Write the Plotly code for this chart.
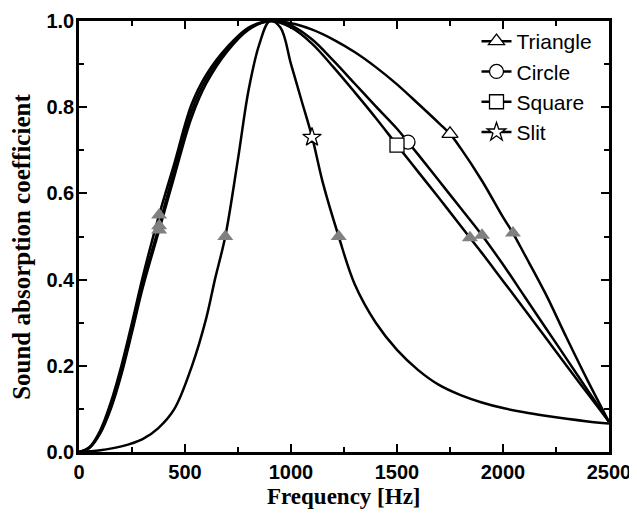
import plotly.graph_objects as go

# ---- data ----
tri_x = [0, 50, 100, 150, 200, 250, 300, 378, 450, 530, 600, 700, 800, 900,
         1000, 1100, 1200, 1300, 1400, 1500, 1600, 1700, 1750, 1800, 1900, 2000, 2047, 2100, 2200, 2300, 2400, 2500]
tri_y = [0, 0.012, 0.05, 0.115, 0.2, 0.3, 0.405, 0.55, 0.67, 0.805, 0.875, 0.94, 0.985, 1.0,
         0.995, 0.98, 0.957, 0.928, 0.893, 0.853, 0.808, 0.762, 0.738, 0.705, 0.63, 0.545, 0.508, 0.46, 0.368, 0.265, 0.165, 0.07]

cir_x = [0, 50, 100, 150, 200, 250, 300, 378, 450, 530, 600, 700, 800, 900,
         1000, 1100, 1200, 1300, 1400, 1500, 1552, 1600, 1700, 1800, 1901, 2000, 2100, 2200, 2300, 2400, 2500]
cir_y = [0, 0.01, 0.045, 0.105, 0.185, 0.285, 0.39, 0.525, 0.655, 0.79, 0.865, 0.935, 0.982, 1.0,
         0.99, 0.957, 0.908, 0.855, 0.802, 0.75, 0.719, 0.69, 0.628, 0.566, 0.503, 0.435, 0.362, 0.289, 0.216, 0.143, 0.07]

sq_x = [0, 50, 100, 150, 200, 250, 300, 378, 450, 530, 600, 700, 800, 900,
        1000, 1100, 1200, 1300, 1400, 1500, 1600, 1700, 1800, 1844, 1900, 2000, 2100, 2200, 2300, 2400, 2500]
sq_y = [0, 0.01, 0.043, 0.1, 0.18, 0.278, 0.38, 0.515, 0.64, 0.775, 0.855, 0.93, 0.98, 1.0,
        0.985, 0.947, 0.893, 0.835, 0.775, 0.712, 0.65, 0.588, 0.525, 0.497, 0.462, 0.397, 0.332, 0.266, 0.2, 0.135, 0.07]

slit_x = [0, 100, 200, 300, 373, 450, 533, 600, 641, 690, 750, 800, 850, 900,
          950, 1000, 1050, 1100, 1150, 1225, 1300, 1400, 1500, 1600, 1700, 1800, 1900, 2000, 2100, 2200, 2300, 2400, 2500]
slit_y = [0, 0.004, 0.013, 0.03, 0.055, 0.1, 0.2, 0.31, 0.40, 0.50, 0.68, 0.84, 0.945, 1.0,
          0.985, 0.9, 0.815, 0.73, 0.625, 0.50, 0.39, 0.30, 0.237, 0.19, 0.155, 0.132, 0.115, 0.102, 0.092, 0.084, 0.077, 0.071, 0.066]

# half-bandwidth markers (grey filled triangles)
half_x = [378, 378, 378, 690, 1225, 1844, 1901, 2047]
half_y = [0.55, 0.525, 0.515, 0.50, 0.50, 0.497, 0.503, 0.508]

# identification markers (open symbols)
names = ["Triangle", "Circle", "Square", "Slit"]
symbols = ["triangle-up", "circle", "square", "star"]
id_x = [1750, 1552, 1500, 1099]
id_y = [0.738, 0.719, 0.712, 0.73]

x_ticks = [0, 500, 1000, 1500, 2000, 2500]
y_ticks = [0.0, 0.2, 0.4, 0.6, 0.8, 1.0]
x_title = "Frequency [Hz]"
y_title = "Sound absorption coefficient"

fig = go.Figure()
line_style = dict(color="black", width=2.5, shape="spline", smoothing=1.0)
for xs, ys in [(tri_x, tri_y), (cir_x, cir_y), (sq_x, sq_y), (slit_x, slit_y)]:
    fig.add_trace(go.Scatter(x=xs, y=ys, mode="lines", line=line_style,
                             showlegend=False, hoverinfo="skip"))

fig.add_trace(go.Scatter(x=half_x, y=half_y, mode="markers", showlegend=False,
                         marker=dict(symbol="triangle-up", size=14, color="#808080",
                                     line=dict(width=0))))

for n, s, xv, yv in zip(names, symbols, id_x, id_y):
    fig.add_trace(go.Scatter(x=[xv], y=[yv], mode="markers", showlegend=False,
                             marker=dict(symbol=s, size=14, color="white",
                                         line=dict(color="black", width=1.3))))
    fig.add_trace(go.Scatter(x=[None], y=[None], mode="lines+markers", name=n,
                             line=dict(color="black", width=2.5),
                             marker=dict(symbol=s, size=14, color="white",
                                         line=dict(color="black", width=1.3))))

axis_common = dict(showline=True, linecolor="black", linewidth=2.5, mirror="ticks",
                   ticks="inside", ticklen=8, tickwidth=2, tickcolor="black",
                   showgrid=False, zeroline=False, automargin=False,
                   tickfont=dict(family="Liberation Sans, Arial", size=20, color="black", weight="bold"))

fig.update_xaxes(range=[0, 2500], tickvals=x_ticks, ticktext=[str(v) for v in x_ticks],
                 minor=dict(ticks="inside", ticklen=5, tickwidth=2, tickcolor="black", dtick=250, tick0=0),
                 ticklabeloverflow="allow",
                 **axis_common)
fig.update_yaxes(range=[0, 1.0], tickvals=y_ticks, ticktext=[f"{v:.1f}" for v in y_ticks],
                 minor=dict(ticks="inside", ticklen=5, tickwidth=2, tickcolor="black", dtick=0.1, tick0=0),
                 ticklabelstandoff=-2, ticklabeloverflow="allow",
                 **axis_common)

title_font = dict(family="Liberation Serif, Times New Roman", color="black", weight="bold")
fig.add_annotation(text=x_title, xref="paper", yref="paper", x=0.5, y=-0.104,
                   xanchor="center", yanchor="middle", showarrow=False,
                   font=dict(size=23, **title_font))
fig.add_annotation(text=y_title, xref="paper", yref="paper", x=-0.1075, y=0.476,
                   xanchor="center", yanchor="middle", showarrow=False, textangle=-90,
                   font=dict(size=25, **title_font))

# page body has an 8px default margin: compensate so the plot area sits at x 79..609, y 21..452
fig.update_layout(width=629, height=505, margin=dict(l=71, r=28, t=13, b=61),
                  paper_bgcolor="white", plot_bgcolor="white",
                  legend=dict(x=0.75, y=1.0, xanchor="left", yanchor="top",
                              bgcolor="rgba(0,0,0,0)", tracegroupgap=0,
                              font=dict(family="Liberation Sans, Arial", size=21, color="black")))

fig.write_html("out.html")
